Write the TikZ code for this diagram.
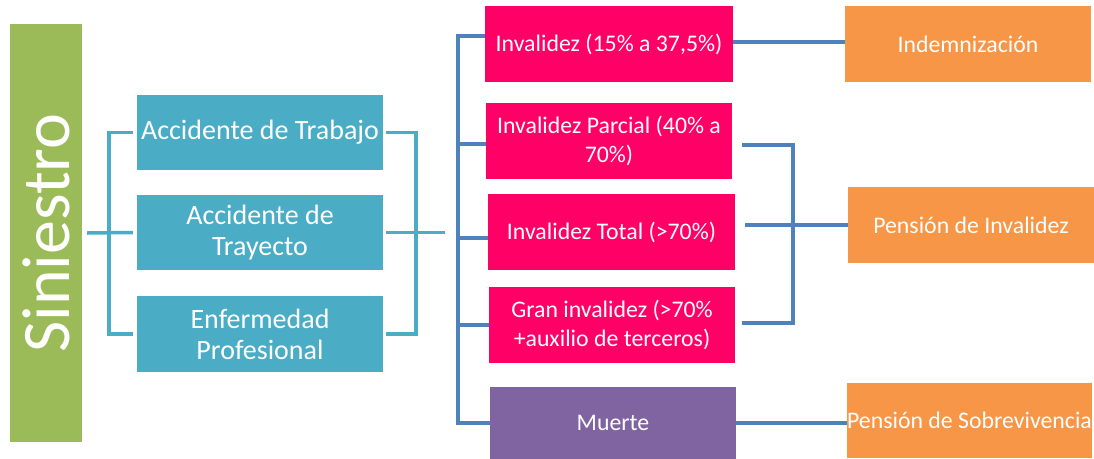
\documentclass[tikz,border=0pt]{standalone}
\usepackage{fontspec}
\setmainfont{Carlito}
\definecolor{cgreen}{HTML}{9BBB59}
\definecolor{cteal}{HTML}{4BACC6}
\definecolor{csteel}{HTML}{4F81BD}
\definecolor{cpink}{HTML}{FF0066}
\definecolor{cpurple}{HTML}{8064A2}
\definecolor{corange}{HTML}{F79646}
\begin{document}
\begin{tikzpicture}[x=1pt,y=-1pt,
  box/.style={rectangle,inner sep=0pt,text=white,align=center},
  bigtxt/.style={font=\fontsize{28}{31}\selectfont},
  smalltxt/.style={font=\fontsize{23.8}{29}\selectfont},
  tl/.style={draw=cteal,line width=3.5pt},
  bl/.style={draw=csteel,line width=3.5pt}]
\useasboundingbox (0,0) rectangle (1094,458);
% nodes
\node[box,fill=cgreen,minimum width=72pt,minimum height=418pt] (sin) at (46,233)
  {\rotatebox{90}{\fontsize{68}{70}\selectfont Siniestro}};
\node[box,bigtxt,fill=cteal,minimum width=246pt,minimum height=75pt] (at) at (260,132.5) {Accidente de Trabajo};
\node[box,bigtxt,fill=cteal,minimum width=246pt,minimum height=75pt] (atr) at (260,232.5) {Accidente de\\Trayecto};
\node[box,bigtxt,fill=cteal,minimum width=246pt,minimum height=76pt] (ep) at (260,334) {Enfermedad\\Profesional};
\node[box,smalltxt,fill=cpink,minimum width=248pt,minimum height=76pt] (i1) at (609,44) {Invalidez (15\% a 37,5\%)};
\node[box,smalltxt,fill=cpink,minimum width=246pt,minimum height=76pt] (i2) at (609,141) {Invalidez Parcial (40\% a\\70\%)};
\node[box,smalltxt,fill=cpink,minimum width=247pt,minimum height=76pt] (i3) at (611.5,232) {Invalidez Total (>70\%)};
\node[box,smalltxt,fill=cpink,minimum width=246pt,minimum height=76pt] (i4) at (612,325) {Gran invalidez (>70\%\\+auxilio de terceros)};
\node[box,smalltxt,fill=cpurple,minimum width=246pt,minimum height=72pt] (m) at (613,423) {Muerte};
\node[box,smalltxt,fill=corange,minimum width=246pt,minimum height=76pt] (ind) at (968,44) {Indemnización};
\node[box,smalltxt,fill=corange,minimum width=246pt,minimum height=76pt] (pi) at (971,225) {Pensión de Invalidez};
\node[box,smalltxt,fill=corange,minimum width=245pt,minimum height=75pt] (ps) at (969.5,420.5) {Pensión de Sobrevivencia};
% helper coordinates
\coordinate (i2w) at ([yshift=-3pt]i2.west);
\coordinate (i3w) at ([yshift=-6pt]i3.west);
% left connectors
\draw[tl] ([xshift=5pt]sin.east) -- ([xshift=-4pt]atr.west);
\draw[tl] ([xshift=-4pt]at.west) -- ++(-24,0) |- ([xshift=-4pt]ep.west);
\draw[tl] ([xshift=3pt]at.east) -- ++(30,0) |- ([xshift=3pt]ep.east);
\draw[tl] ([xshift=3pt]atr.east) -- ++(59,0);
% steel connectors
\draw[bl] ([yshift=8pt]i1.west) -- ++(-27,0) coordinate (v) |- (m.west);
\draw[bl] (v |- i2w) -- (i2w);
\draw[bl] (v |- i3w) -- (i3w);
\draw[bl] (v |- i4.west) -- (i4.west);
\draw[bl] ([yshift=2pt]i1.east) -- ([yshift=2pt]ind.west);
\draw[bl] ([xshift=10pt,yshift=-4pt]i2.east) -- ++(51,0) |- ([xshift=7pt,yshift=2pt]i4.east);
\draw[bl] ([xshift=10pt]i3.east |- pi.west) -- (pi.west);
\draw[bl] (m.east) -- (ps.west |- m.east);
\end{tikzpicture}
\end{document}
